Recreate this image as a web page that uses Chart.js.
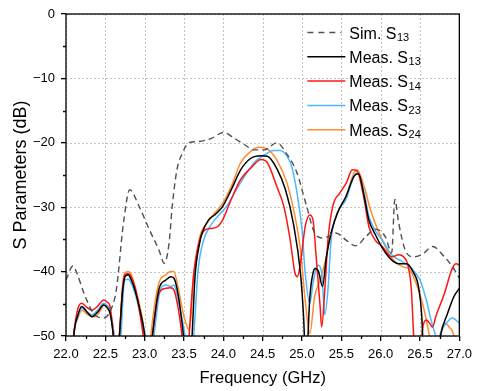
<!DOCTYPE html>
<html><head><meta charset="utf-8">
<script src="https://cdn.jsdelivr.net/npm/chart.js@4.4.1/dist/chart.umd.min.js"></script>
<style>html,body{margin:0;padding:0;background:#fff;}#wrap{width:478px;height:391px;position:relative;}</style>
</head><body><div id="wrap"><canvas id="c"></canvas></div>
<script>
// ---- data ----
const simFreq = [22.0,22.09,22.14,22.23,22.35,22.48,22.56,22.64,22.73,22.81,22.93,23.06,23.18,23.25,23.31,23.35,23.41,23.48,23.56,23.68,23.85,24.0,24.14,24.27,24.39,24.52,24.68,24.81,24.93,25.06,25.16,25.27,25.43,25.56,25.68,25.81,25.93,26.06,26.14,26.18,26.23,26.31,26.41,26.52,26.66,26.81,26.91,27.0];
const simDb   = [-41.3,-39.1,-40.3,-43.4,-46.5,-47.2,-46.2,-42.8,-32.5,-27.3,-29.9,-33.5,-36.6,-38.7,-35.6,-29.9,-24.2,-21.6,-20.0,-19.8,-19.3,-18.4,-19.3,-20.3,-21.1,-21.1,-20.0,-21.8,-24.5,-29.9,-34.0,-34.8,-34.0,-35.1,-36.0,-34.6,-33.4,-34.6,-37.1,-28.8,-32.5,-36.6,-37.7,-37.4,-36.1,-37.7,-39.2,-41.0];

const s13Freq = [22.07,22.1,22.15,22.2,22.27,22.33,22.4,22.48,22.53,22.56,22.6,22.64,22.68,22.72,22.75,22.79,22.83,22.88,22.93,23.0,23.05,23.1,23.18,23.27,23.33,23.37,23.43,23.5,23.56,23.6,23.64,23.7,23.73,23.81,23.89,23.99,24.1,24.22,24.35,24.48,24.56,24.68,24.79,24.89,24.98,25.02,25.05,25.1,25.14,25.17,25.21,25.26,25.31,25.37,25.45,25.56,25.66,25.72,25.79,25.85,25.93,26.02,26.1,26.16,26.23,26.33,26.41,26.48,26.52,26.56,26.7,26.76,26.85,26.93,27.0];
const s13Db   = [-56,-49.8,-46.8,-45.4,-46.3,-47.0,-46.3,-45.2,-45.7,-46.5,-49.8,-56,-49.8,-43,-40.8,-40.5,-41.3,-43,-45.4,-49.8,-56,-49.8,-42.8,-41.3,-40.8,-41.0,-43.9,-50.6,-57,-50.6,-40.8,-35.5,-34.0,-32.0,-31.2,-29.9,-27.3,-24.2,-22.4,-22.0,-22.1,-24.0,-27.3,-32.5,-40.2,-47.0,-55,-43.9,-40.2,-39.5,-40.0,-42.3,-37.7,-34.0,-30.9,-28.3,-25.2,-24.8,-28.3,-32.0,-34.2,-36.3,-37.7,-38.4,-38.8,-38.8,-40.0,-42.3,-46.5,-56,-56,-50,-46.5,-43.9,-42.6];

const s14Freq = [22.07,22.1,22.15,22.2,22.27,22.33,22.4,22.48,22.53,22.56,22.6,22.64,22.68,22.72,22.75,22.79,22.83,22.88,22.91,22.98,23.04,23.1,23.18,23.27,23.33,23.37,23.43,23.48,23.52,23.56,23.62,23.7,23.77,23.85,23.93,23.99,24.1,24.22,24.35,24.48,24.56,24.68,24.77,24.85,24.91,24.94,24.98,25.04,25.1,25.14,25.18,25.23,25.25,25.29,25.33,25.39,25.48,25.56,25.64,25.7,25.79,25.85,25.93,26.02,26.14,26.23,26.29,26.35,26.39,26.42,26.47,26.54,26.58,26.62,26.66,26.7,26.81,26.91,26.96,27.0];
const s14Db   = [-56,-49.8,-45.8,-44.9,-45.6,-46.0,-45.4,-44.4,-44.8,-45.4,-49.8,-56,-49.8,-42.5,-40.5,-40.3,-40.8,-42.5,-44.4,-49.8,-56,-49.8,-43.4,-42.6,-42.5,-42.8,-46.0,-50.6,-56,-50.6,-40.8,-35.1,-33.5,-33.3,-33.0,-32.0,-28.8,-25.7,-23.9,-22.6,-23.1,-26.8,-29.9,-35.1,-40.2,-40.8,-38.7,-33.0,-31.2,-32.0,-37.7,-45.4,-48.6,-42.8,-35.1,-29.9,-27.8,-26.3,-24.2,-24.4,-28.8,-33.0,-35.1,-36.1,-37.7,-37.4,-37.7,-39.2,-42.8,-50,-56,-48.4,-47.5,-48.0,-48.6,-47.0,-43.4,-39.5,-38.8,-39.0];

const s23Freq = [22.07,22.1,22.15,22.2,22.27,22.33,22.4,22.48,22.53,22.56,22.61,22.655,22.7,22.73,22.75,22.79,22.83,22.88,22.93,23.0,23.06,23.12,23.2,23.27,23.33,23.37,23.43,23.52,23.57,23.62,23.68,23.75,23.83,23.93,24.04,24.14,24.27,24.39,24.52,24.64,24.72,24.81,24.87,24.93,25.0,25.04,25.1,25.14,25.2,25.25,25.29,25.33,25.37,25.45,25.56,25.66,25.7,25.79,25.85,25.93,26.02,26.14,26.27,26.39,26.5,26.58,26.64,26.7,26.73,26.77,26.85,26.91,27.0];
const s23Db   = [-56,-49.8,-47.0,-45.7,-46.3,-46.7,-46.0,-44.9,-45.4,-46.2,-49.8,-56,-49.8,-43,-41.3,-41.2,-41.8,-43.5,-45.9,-49.8,-56,-49.8,-42.8,-42.1,-42.3,-42.1,-44.7,-50.6,-57,-50.6,-39.7,-35.1,-33.0,-31.4,-29.9,-27.8,-25.2,-23.1,-21.9,-21.2,-21.2,-22.1,-23.7,-27.3,-33.5,-40.2,-44.9,-41.8,-39.0,-40.2,-46.7,-42.8,-35.1,-30.9,-28.8,-25.2,-24.7,-27.8,-31.4,-33.6,-35.1,-37.4,-38.4,-39.5,-41.3,-44.4,-47.5,-50,-51,-49.3,-47.8,-47.2,-48.0];

const s24Freq = [22.07,22.1,22.15,22.2,22.28,22.37,22.43,22.48,22.53,22.56,22.61,22.645,22.68,22.72,22.75,22.79,22.83,22.88,22.93,23.0,23.04,23.08,23.18,23.27,23.33,23.37,23.43,23.5,23.57,23.62,23.7,23.79,23.89,23.99,24.1,24.22,24.35,24.45,24.56,24.68,24.81,24.91,24.98,25.04,25.1,25.16,25.23,25.29,25.37,25.45,25.56,25.66,25.7,25.79,25.87,25.93,26.02,26.14,26.27,26.37,26.45,26.52,26.58,26.62,26.68,26.75,26.81,26.87,26.93,26.97,27.0];
const s24Db   = [-56,-49.8,-47.3,-46.0,-46.7,-47.0,-46.2,-45.2,-45.4,-45.9,-49.8,-56,-49.8,-42,-40.2,-40.0,-40.5,-42.5,-44.9,-49.8,-56,-49.8,-41.8,-40.5,-40.0,-40.0,-42.8,-47.0,-49.1,-40.8,-34.6,-32.5,-30.9,-29.4,-26.8,-23.1,-21.3,-20.7,-21.0,-22.7,-26.3,-31.4,-36.6,-44.4,-49.6,-43.9,-41.3,-38.7,-34.0,-30.9,-28.3,-24.7,-24.2,-26.8,-30.4,-32.5,-35.1,-37.9,-39.2,-39.7,-41.8,-44.4,-47.5,-50,-53,-50,-48.0,-48.6,-50,-54,-56];

const seriesNames = ["Sim. S", "Meas. S", "Meas. S", "Meas. S", "Meas. S"];
const seriesSubs  = ["13", "13", "14", "23", "24"];
const xMin = 22, xMax = 27, xStep = 0.5;
const yMin = -50, yMax = 0, yStep = 10;

// ---- chart ----
const FONT = "'Liberation Sans', Arial, sans-serif";
const pts = (f, d) => f.map((x, i) => ({x: x, y: d[i]}));
const colors = ['#505050', '#000000', '#ff1414', '#4cb9ff', '#ff8b2e'];
const seriesData = [pts(simFreq, simDb), pts(s13Freq, s13Db), pts(s14Freq, s14Db), pts(s23Freq, s23Db), pts(s24Freq, s24Db)];

const frameAndMinor = {
  id: 'frameAndMinor',
  beforeDraw(chart) {
    const ctx = chart.ctx;
    ctx.save(); ctx.fillStyle = '#fff'; ctx.fillRect(0, 0, chart.width, chart.height); ctx.restore();
  },
  beforeDatasetsDraw(chart) {
    const {ctx, chartArea: a, scales: {x, y}} = chart;
    ctx.save();
    ctx.strokeStyle = '#c4c4c4'; ctx.lineWidth = 1; ctx.setLineDash([2, 2]);
    ctx.beginPath();
    x.ticks.forEach(t => {
      const px = Math.round(x.getPixelForValue(t.value)) + 0.5;
      ctx.moveTo(px, a.top); ctx.lineTo(px, a.bottom);
    });
    y.ticks.forEach(t => {
      const py = Math.round(y.getPixelForValue(t.value)) + 0.5;
      ctx.moveTo(a.left, py); ctx.lineTo(a.right, py);
    });
    ctx.stroke();
    ctx.restore();
  },
  afterDraw(chart) {
    const {ctx, chartArea: a, scales: {x, y}} = chart;
    ctx.save();
    ctx.strokeStyle = '#000'; ctx.lineWidth = 1.3;
    ctx.beginPath();
    for (let v = xMin + xStep / 2; v < xMax; v += xStep) {
      const px = Math.round(x.getPixelForValue(v)) + 0.5;
      ctx.moveTo(px, a.bottom); ctx.lineTo(px, a.bottom + 3);
    }
    for (let v = yMin + yStep / 2; v < yMax; v += yStep) {
      const py = Math.round(y.getPixelForValue(v)) + 0.5;
      ctx.moveTo(a.left, py); ctx.lineTo(a.left - 3, py);
    }
    ctx.stroke();
    ctx.strokeRect(a.left, a.top, a.right - a.left, a.bottom - a.top);
    // legend
    const x0 = a.right - 152, x1 = a.right - 114, tx = a.right - 110;
    let ry = a.top + 18.5;
    chart.data.datasets.forEach((ds, i) => {
      ctx.save();
      ctx.strokeStyle = ds.borderColor; ctx.lineWidth = ds.borderWidth;
      ctx.setLineDash(ds.borderDash.length ? [6, 5] : []);
      ctx.beginPath(); ctx.moveTo(x0, ry); ctx.lineTo(ds.borderDash.length ? x1 - 4 : x1, ry); ctx.stroke();
      ctx.restore();
      ctx.fillStyle = '#000';
      ctx.textBaseline = 'alphabetic'; ctx.textAlign = 'left';
      ctx.font = '16px ' + FONT;
      ctx.fillText(seriesNames[i], tx, ry + 6);
      const w = ctx.measureText(seriesNames[i]).width;
      ctx.font = '11px ' + FONT;
      ctx.fillText(seriesSubs[i], tx + w + 0.5, ry + 8.5);
      ry += 24.3;
    });
    ctx.restore();
  }
};

new Chart(document.getElementById('c'), {
  type: 'line',
  data: {
    datasets: seriesData.map((d, i) => ({
      label: seriesNames[i] + seriesSubs[i],
      data: d,
      borderColor: colors[i],
      backgroundColor: colors[i],
      borderWidth: i === 0 ? 1.4 : 1.5,
      borderDash: i === 0 ? [6, 4] : [],
      pointRadius: 0,
      fill: false,
      cubicInterpolationMode: 'monotone',
      clip: 0
    }))
  },
  options: {
    responsive: true,
    maintainAspectRatio: false,
    animation: false,
    layout: {padding: {left: 0, top: 14, right: 14, bottom: 0}},
    plugins: {legend: {display: false}, tooltip: {enabled: false}},
    scales: {
      x: {
        type: 'linear', min: xMin, max: xMax,
        afterFit(s) { s.height = 55; },
        ticks: {stepSize: xStep, color: '#000', font: {family: FONT, size: 13}, padding: 6, maxRotation: 0,
          callback: v => Number(v).toFixed(1)},
        grid: {drawOnChartArea: false, color: '#000', lineWidth: 1.3, tickColor: '#000', tickWidth: 1.3, tickLength: 5},
        border: {display: false},
        title: {display: true, text: 'Frequency (GHz)', color: '#000', font: {family: FONT, size: 16.5}, padding: {top: 0, bottom: 3}}
      },
      y: {
        min: yMin, max: yMax,
        afterFit(s) { s.width = 66; },
        ticks: {stepSize: yStep, color: '#000', font: {family: FONT, size: 13}, padding: 6,
          callback: v => String(v).replace('-', '\u2212')},
        grid: {drawOnChartArea: false, color: '#000', lineWidth: 1.3, tickColor: '#000', tickWidth: 1.3, tickLength: 5},
        border: {display: false},
        title: {display: true, text: 'S Parameters (dB)', color: '#000', font: {family: FONT, size: 18}, padding: {top: 10, bottom: 0}}
      }
    }
  },
  plugins: [frameAndMinor]
});
</script>
</body></html>
